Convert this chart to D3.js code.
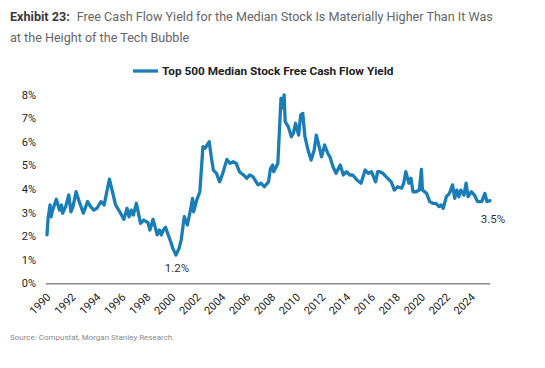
<!DOCTYPE html>
<html>
<head>
<meta charset="utf-8">
<script src="https://cdn.jsdelivr.net/npm/d3@7"></script>
<style>
  html, body { margin: 0; padding: 0; background: #fff; }
  svg { display: block; font-family: Roboto, "Noto Sans", sans-serif; }
</style>
</head>
<body>
<svg id="chart" width="545" height="368"></svg>
<script>
const titleBold = "Exhibit 23:";
const titleLine1 = "Free Cash Flow Yield for the Median Stock Is Materially Higher Than It Was";
const titleLine2 = "at the Height of the Tech Bubble";
const seriesName = "Top 500 Median Stock Free Cash Flow Yield";
const sourceText = "Source: Compustat, Morgan Stanley Research.";

const dates = ["1990-01","1990-02","1990-04","1990-05","1990-06","1990-10","1991-01","1991-03","1991-04","1991-07","1991-10","1991-12",
"1992-02","1992-05","1992-08","1992-12","1993-04","1993-07","1993-10","1994-01","1994-05","1994-08","1995-01","1995-04","1995-07","1995-11",
"1996-03","1996-06","1996-08","1996-10","1996-12","1997-03","1997-07","1997-10","1998-02","1998-04","1998-07","1998-11","1999-01","1999-03",
"1999-05","1999-07","1999-09","1999-12","2000-02","2000-05","2000-08","2000-10","2001-01","2001-04","2001-07","2001-09","2001-10","2002-01",
"2002-04","2002-07","2002-09","2003-01","2003-03","2003-05","2003-08","2003-11","2004-02","2004-06","2004-09","2004-12","2005-03","2005-06",
"2005-10","2006-01","2006-04","2006-07","2006-12","2007-03","2007-06","2007-10","2007-12","2008-02","2008-03","2008-07","2008-10","2008-11",
"2009-01","2009-02","2009-05","2009-08","2009-10","2009-12","2010-03","2010-05","2010-07","2010-09","2010-12","2011-03","2011-06","2011-08",
"2011-10","2012-01","2012-04","2012-07","2012-09","2012-12","2013-03","2013-07","2013-10","2014-01","2014-04","2014-07","2014-11","2015-03",
"2015-07","2015-10","2016-01","2016-05","2016-07","2016-09","2016-12","2017-03","2017-08","2017-11","2018-02","2018-06","2018-08","2018-10",
"2019-01","2019-03","2019-05","2019-08","2019-11","2020-01","2020-02","2020-06","2020-09","2020-12","2021-03","2021-06","2021-08","2021-10",
"2022-01","2022-04","2022-07","2022-09","2022-11","2023-01","2023-03","2023-06","2023-08","2023-10","2024-01","2024-04","2024-07","2024-11",
"2025-02","2025-04","2025-07"];

const yields = [2.05,2.75,3.32,2.82,3.03,3.56,3.10,3.32,2.97,3.25,3.74,3.03,
3.25,3.88,3.46,2.97,3.46,3.25,3.10,3.18,3.46,3.32,4.41,3.88,3.32,3.03,
2.71,3.18,2.82,3.10,2.89,3.39,2.54,2.68,2.57,2.26,2.71,2.05,2.26,2.05,
2.26,2.37,2.12,1.76,1.48,1.20,1.48,1.83,2.82,2.47,3.10,3.60,3.03,3.53,
3.88,5.79,5.72,6.00,5.36,4.80,4.66,4.30,4.66,5.25,5.08,5.15,5.08,4.73,
4.59,4.45,4.59,4.52,4.17,4.24,4.09,4.30,4.87,5.01,4.73,5.08,7.84,7.42,
7.98,6.85,6.64,6.21,6.36,6.78,6.28,7.13,7.20,6.21,5.65,5.22,5.65,6.28,
5.93,5.36,5.86,5.51,5.36,4.94,4.66,5.01,4.59,4.73,4.59,4.59,4.38,4.24,
4.80,4.66,4.73,4.30,4.73,4.73,4.66,4.52,4.30,3.95,4.09,4.03,4.24,4.73,
4.24,4.45,3.88,3.88,3.95,4.83,3.95,3.81,3.46,3.39,3.39,3.25,3.32,3.18,
3.67,3.81,4.17,3.60,3.95,3.67,3.95,3.74,4.24,3.67,3.88,3.74,3.46,3.46,
3.81,3.46,3.50];

const yTicks = [0,1,2,3,4,5,6,7,8];
const xTickYears = d3.range(1990, 2025, 2);
const annotations = [
  {date: "2000-05", value: 1.20, label: "1.2%"},
  {date: "2025-07", value: 3.50, label: "3.5%"}
];

const parse = d3.timeParse("%Y-%m");
const data = dates.map((d, i) => ({date: parse(d), value: yields[i]}));

const svg = d3.select("#chart");
const lineColor = "#1a7db6";

// Title
const t1 = svg.append("text").attr("x", 10).attr("y", 21)
  .attr("font-size", 12.6).attr("fill", "#666");
t1.append("tspan").attr("font-weight", "bold").attr("fill", "#3a3a3a").text(titleBold);
t1.append("tspan").attr("dx", 7).text(titleLine1);
svg.append("text").attr("x", 10).attr("y", 42)
  .attr("font-size", 12.6).attr("fill", "#666").text(titleLine2);

// Scales
const x = d3.scaleTime().domain([parse("1990-01"), parse("2025-07")]).range([47, 490]);
const y = d3.scaleLinear().domain([0, 8]).range([283.3, 94.5]);

// Y axis labels
const yAxis = d3.axisLeft(y).tickValues(yTicks).tickFormat(d => d + "%").tickSize(0).tickPadding(0);
const gy = svg.append("g").attr("transform", "translate(36,0)").call(yAxis);
gy.select(".domain").remove();
gy.selectAll("text").attr("font-size", 11).attr("fill", "#222")
  .attr("font-family", "Roboto, sans-serif");

// X axis
const xAxis = d3.axisBottom(x).tickValues(xTickYears.map(yv => new Date(yv, 0, 1)))
  .tickFormat(d3.timeFormat("%Y")).tickSize(0).tickPadding(0);
const gx = svg.append("g").attr("transform", "translate(0,283.8)").call(xAxis);
gx.select(".domain").attr("stroke", "#8a8a8a").attr("stroke-width", 1.6)
  .attr("d", "M46,0H490");
gx.selectAll(".tick text")
  .attr("font-size", 11).attr("fill", "#222").attr("font-family", "Roboto, sans-serif")
  .attr("text-anchor", "end").attr("dy", null).attr("y", 0)
  .attr("transform", "translate(4,14) rotate(-45)");

// Line
const line = d3.line().x(d => x(d.date)).y(d => y(d.value)).curve(d3.curveLinear);
svg.append("path").datum(data).attr("d", line)
  .attr("fill", "none").attr("stroke", lineColor).attr("stroke-width", 3.3)
  .attr("stroke-linejoin", "round").attr("stroke-linecap", "round");

// Legend
svg.append("line").attr("x1", 133).attr("x2", 158).attr("y1", 71).attr("y2", 71)
  .attr("stroke", lineColor).attr("stroke-width", 3.3);
svg.append("text").attr("x", 162).attr("y", 75).attr("font-size", 11.8)
  .attr("font-weight", "bold").attr("fill", "#222").text(seriesName);

// Annotations
svg.append("text").attr("x", x(parse(annotations[0].date)) + 1).attr("y", y(annotations[0].value) + 17)
  .attr("text-anchor", "middle").attr("font-size", 11.5).attr("fill", "#333").text(annotations[0].label);
svg.append("text").attr("x", x(parse(annotations[1].date)) + 3).attr("y", y(annotations[1].value) + 22)
  .attr("text-anchor", "middle").attr("font-size", 11.5).attr("fill", "#333").text(annotations[1].label);

// Source
svg.append("text").attr("x", 10).attr("y", 340).attr("font-size", 8).attr("fill", "#8a8a8a").text(sourceText);
</script>
</body>
</html>
